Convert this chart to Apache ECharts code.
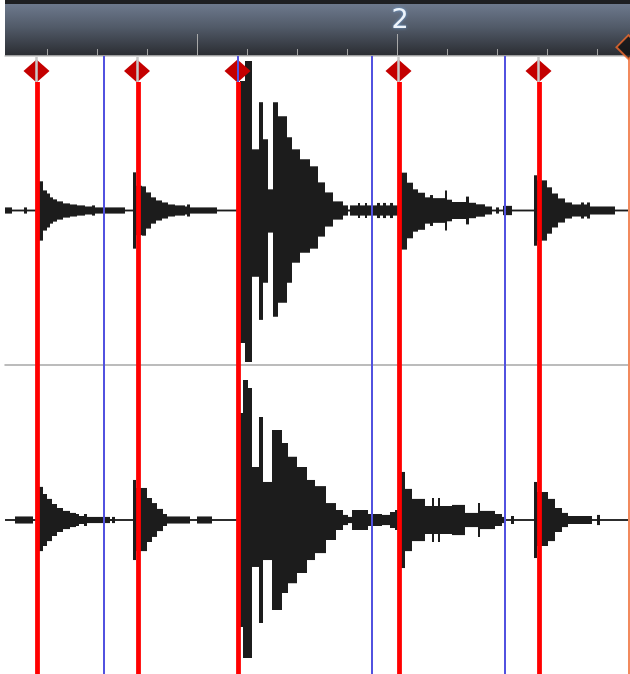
<!DOCTYPE html>
<html><head><meta charset="utf-8">
<script src="https://cdn.jsdelivr.net/npm/echarts@6/dist/echarts.min.js"></script>
<style>html,body{margin:0;padding:0;background:#fff;}#c{width:630px;height:674px;}</style>
</head><body><div id="c"></div>
<script>
// time axis unit: 1 bar = 400 ticks (bar 1 starts at 0), amplitude in % of full scale
const X_MIN = 8, X_MAX = 633;
const rulerTicks = [50,100,150,200,250,300,350,400,450,500,550,600];
const rulerLongTicks = [200,400];
const barPositions = [400];
const barLabels = ['2'];
const transientMarkers = [40.5, 141, 241.5, 402.5, 542.5];
const sliceMarkers = [106.5, 240.5, 374.5, 507.5];
const playhead = 631.5;

// [time, upper envelope, lower envelope]
const channel1 = [
  [8,2,-2],[15,0.6,-0.6],[27,2,-2],[30,0.6,-0.6],
  [42,18.9,-19.5],[46,13,-13],[50,11,-11],[53,8.5,-8.5],[56,7.2,-7.2],[60,5.9,-5.9],[66,4.6,-4.6],[73,3.9,-3.9],[80,3.3,-3.3],[88,2.6,-2.6],[95,3.3,-3.3],[98,2,-2],[128,0.6,-0.6],
  [136,24.7,-24.7],[139,16,-16],[145,15.6,-16.3],[149,11.7,-11.7],[154,8.5,-8.5],[159,6.5,-6.5],[165,5.2,-5.2],[171,3.9,-3.9],[178,3.3,-3.3],[188,2.6,-2.6],[190,3.9,-3.9],[193,2,-2],[220,0.6,-0.6],
  [243,83.8,-85.7],[248,96.8,-98],[255,39.6,-42.9],[262,70.1,-70.8],[266,46.1,-46.8],[271,13.7,-14.3],[276,70.1,-68.8],[281,61,-59.7],[290,47.4,-46.8],[295,39.6,-33.8],[303,33.1,-27.3],[313,28.6,-24.7],[321,18.2,-16.9],[328,11.7,-10.4],[336,5.9,-5.9],[346,3.3,-3.3],[351,0.6,-0.6],
  [353,3.3,-3.3],[361,4.9,-4.9],[363,3.3,-3.3],[368,4.9,-4.9],[370,3.3,-3.3],[380,4.9,-4.9],[383,3.3,-3.3],[386,4.9,-4.9],[389,3.3,-3.3],[393,4.9,-4.9],[396,3.3,-3.3],
  [404,24.5,-25.3],[410,18,-18],[416,13.7,-13.7],[421,11.5,-12.5],[428,8.5,-8.5],[433,10,-10],[436,8,-8],[448,13,-13],[450,7,-7],[455,5.5,-5.5],[469,9,-9],[472,5,-5],[479,4,-4],[488,2.6,-2.6],[495,0.6,-0.6],[499,2,-2],[502,0.6,-0.6],[506,3,-3],[515,0.6,-0.6],
  [537,22.8,-22.8],[540,19.5,-19.5],[545,19.5,-19.5],[550,15,-15],[555,11,-11],[561,7.8,-7.8],[568,5.2,-5.2],[575,3.9,-3.9],[584,5.2,-5.2],[587,3.9,-3.9],[590,5.2,-5.2],[593,2.6,-2.6],[618,0.6,-0.6]
];
const channel2 = [
  [8,0.6,-0.6],[18,2.3,-2.3],[36,0.6,-0.6],
  [42,21.5,-20.2],[46,16.9,-16.9],[50,13.7,-13.7],[55,10.4,-10.4],[60,7.8,-7.8],[66,5.9,-5.9],[73,4.6,-4.6],[79,3.9,-3.9],[82,2.6,-2.6],[87,3.9,-3.9],[90,2,-2],[113,0.6,-0.6],[115,2,-2],[118,0.6,-0.6],
  [136,26,-26],[139,20.8,-20.2],[150,14.3,-14.3],[155,11,-11],[160,7.2,-7.2],[166,3.9,-3.9],[170,2.3,-2.3],[193,0.6,-0.6],[200,2.3,-2.3],[215,0.6,-0.6],
  [243,69.5,-69.5],[246,90.9,-89.6],[251,85.7,-89.6],[255,34.4,-30.5],[262,66.9,-66.9],[266,24.7,-26],[275,58.4,-58.4],[285,50,-47.4],[291,41,-41],[300,34.4,-34.4],[310,26,-26],[318,22,-21.5],[329,11,-13],[339,6.5,-6.5],[346,3.3,-3.3],[351,2,-2],
  [355,6.5,-6.5],[371,3.9,-3.9],[385,3.3,-3.3],[393,5.2,-5.2],[398,6.5,-6.5],
  [404,31.2,-31.2],[408,20.2,-20.2],[415,13.7,-13.7],[428,9.1,-9.1],[435,14.3,-14.3],[437,9.1,-9.1],[441,14.3,-14.3],[443,9.1,-9.1],[455,9.8,-9.8],[468,4.6,-4.6],[481,11,-11],[483,5.9,-5.9],[498,3.9,-3.9],[505,2,-2],[508,0.6,-0.6],[514,2.6,-2.6],[517,0.6,-0.6],
  [537,24.7,-24.7],[540,18.2,-16.9],[551,13.7,-13.7],[558,7.8,-7.8],[565,4.6,-4.6],[571,2.6,-2.6],[595,0.6,-0.6],[600,3.3,-3.3],[603,0.6,-0.6]
];

const chart = echarts.init(document.getElementById('c'), null, {renderer:'canvas'});

function grid(top, height, extra) {
  return Object.assign({left:5, width:625, top:top, height:height, outerBoundsMode:'none', containLabel:false}, extra||{});
}
function hiddenX(gi) {
  return {type:'value', gridIndex:gi, min:X_MIN, max:X_MAX, show:false, axisLine:{onZero:false}};
}
function hiddenY(gi, min, max) {
  return {type:'value', gridIndex:gi, min:min, max:max, show:false};
}
function waveSeries(data, idx) {
  return {
    type:'custom', xAxisIndex:idx, yAxisIndex:idx, clip:true, silent:true, z:2,
    encode:{x:0, y:[1,2]},
    data:data,
    renderItem:function(params, api){
      const i = params.dataIndex;
      const t0 = api.value(0);
      const t1 = i + 1 < data.length ? data[i+1][0] : X_MAX;
      const p1 = api.coord([t0, api.value(1)]);
      const p2 = api.coord([t1, api.value(2)]);
      return {type:'rect', shape:{x:p1[0], y:p1[1], width:p2[0]-p1[0], height:p2[1]-p1[1]}, style:{fill:'#1c1c1c'}};
    }
  };
}
const stripeMarkers = transientMarkers.filter(r => !sliceMarkers.some(b => Math.abs(b - r) < 4));

const option = {
  animation:false,
  backgroundColor:'#ffffff',
  graphic:[{type:'rect', left:5, top:0, shape:{width:625, height:4}, style:{fill:'#1e1f22'}, z:0}],
  grid:[
    grid(4, 52, {show:true, borderWidth:0, backgroundColor:{type:'linear', x:0, y:0, x2:0, y2:1,
      colorStops:[{offset:0,color:'#6d798d'},{offset:0.45,color:'#515a68'},{offset:1,color:'#2a2c31'}]}}),
    grid(56, 309),
    grid(366, 308),
    grid(60, 22),
    grid(56, 618),
    grid(82, 592),
    grid(57, 25)
  ],
  xAxis:[
    {type:'value', gridIndex:0, min:X_MIN, max:X_MAX, position:'bottom',
      axisLine:{show:true, onZero:false, lineStyle:{color:'#c4c4c4', width:1.5}},
      axisTick:{show:true, inside:true, length:7, customValues:rulerTicks, lineStyle:{color:'#a3a3a3', width:1}},
      axisLabel:{show:true, inside:true, customValues:barPositions, margin:22,
        formatter:function(v){ const k = barPositions.indexOf(v); return k >= 0 ? barLabels[k] : ''; },
        color:'#eef4fb', fontSize:27, fontFamily:'DejaVu Sans', padding:[0,0,0,6],
        textShadowColor:'rgba(110,165,225,0.9)', textShadowBlur:3},
      splitLine:{show:false}},
    {type:'value', gridIndex:0, min:X_MIN, max:X_MAX, position:'bottom',
      axisLine:{show:false, onZero:false},
      axisTick:{show:true, inside:true, length:22, customValues:rulerLongTicks, lineStyle:{color:'#a8a8a8', width:1}},
      axisLabel:{show:false}, splitLine:{show:false}},
    {type:'value', gridIndex:1, min:X_MIN, max:X_MAX, position:'bottom',
      axisLine:{show:true, onZero:false, lineStyle:{color:'#a6a6a6', width:1.5}},
      axisTick:{show:false}, axisLabel:{show:false}, splitLine:{show:false}},
    hiddenX(2), hiddenX(3), hiddenX(4), hiddenX(5), hiddenX(6)
  ],
  yAxis:[
    hiddenY(0, 0, 1), hiddenY(0, 0, 1),
    hiddenY(1, -100, 100), hiddenY(2, -100, 100),
    hiddenY(3, 0, 1), hiddenY(4, 0, 1), hiddenY(5, 0, 1), hiddenY(6, 0, 1)
  ],
  series:[
    Object.assign(waveSeries(channel1, 2), {xAxisIndex:2, yAxisIndex:2}),
    Object.assign(waveSeries(channel2, 3), {xAxisIndex:3, yAxisIndex:3}),
    {type:'scatter', xAxisIndex:4, yAxisIndex:4, silent:true, z:3, symbol:'diamond', symbolSize:[26,23],
      itemStyle:{color:'#c40000', opacity:1}, data:transientMarkers.map(t => [t - 1, 0.5])},
    {type:'line', xAxisIndex:5, yAxisIndex:5, data:[], silent:true, z:4,
      markLine:{silent:true, symbol:['none','none'], label:{show:false}, animation:false,
        lineStyle:{color:'#5252e0', width:2, type:'solid'},
        data:sliceMarkers.map(v => ({xAxis:v}))}},
    {type:'line', xAxisIndex:5, yAxisIndex:5, data:[], silent:true, z:4,
      markLine:{silent:true, symbol:['none','none'], label:{show:false}, animation:false,
        lineStyle:{color:'#f28a5e', width:2, type:'solid'},
        data:[{xAxis:playhead}]}},
    {type:'line', xAxisIndex:6, yAxisIndex:6, data:[], silent:true, z:5,
      markLine:{silent:true, symbol:['none','none'], label:{show:false}, animation:false,
        lineStyle:{color:'#ff0000', width:4.8, type:'solid'},
        data:transientMarkers.map(v => ({xAxis:v}))}},
    {type:'line', xAxisIndex:7, yAxisIndex:7, data:[], silent:true, z:6,
      markLine:{silent:true, symbol:['none','none'], label:{show:false}, animation:false,
        lineStyle:{color:'#c9c9c9', width:2.5, type:'solid'},
        data:stripeMarkers.map(v => ({xAxis:v - 1}))}},
    {type:'scatter', xAxisIndex:0, yAxisIndex:0, silent:true, z:7, clip:false, symbol:'diamond', symbolSize:[24,24],
      itemStyle:{color:'#111111', borderColor:'#f26b2d', borderWidth:2}, data:[[playhead, 0.17]]}
  ]
};
chart.setOption(option);
</script>
</body></html>
